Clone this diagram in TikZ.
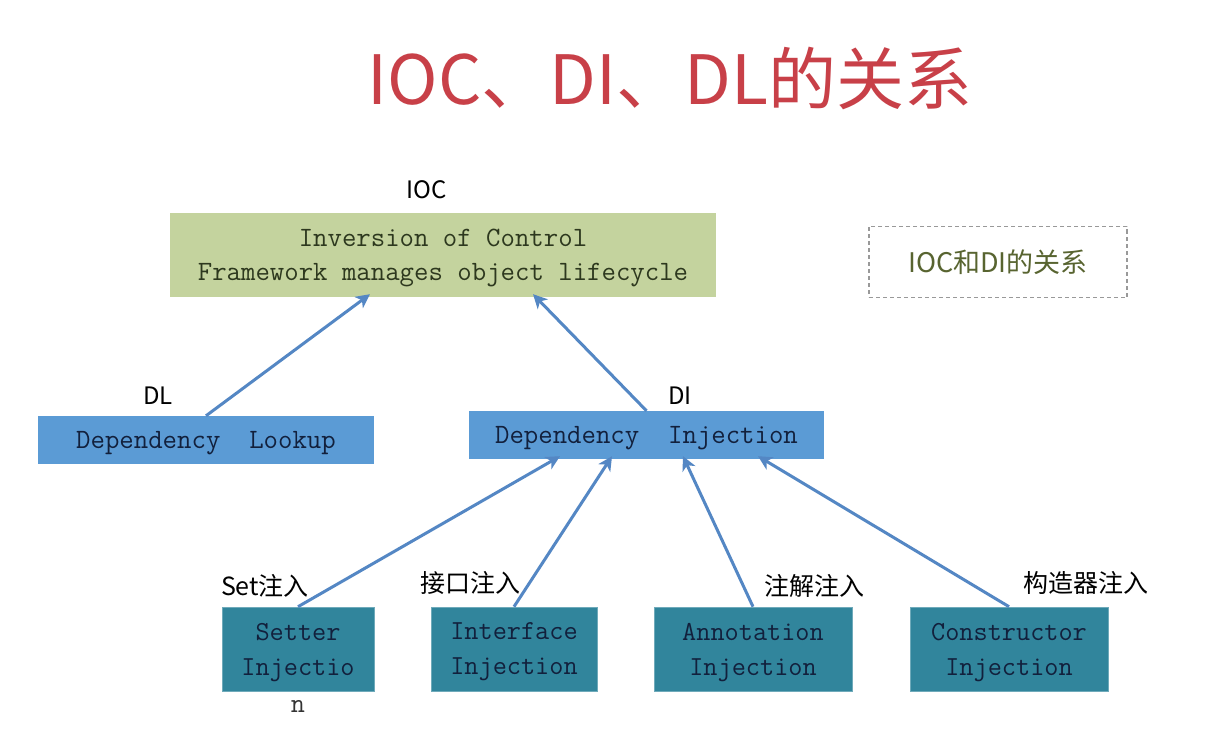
\documentclass[tikz,border=0pt]{standalone}
\usepackage{fontspec}
\newfontfamily\cjk{Noto Sans CJK SC}
\usetikzlibrary{arrows.meta}
\definecolor{titlered}{RGB}{200,64,72}
\definecolor{iocfill}{RGB}{196,211,158}
\definecolor{iocText}{RGB}{45,56,30}
\definecolor{bluefill}{RGB}{91,155,213}
\definecolor{tealfill}{RGB}{49,133,156}
\definecolor{boxtext}{RGB}{18,32,60}
\definecolor{arrowblue}{RGB}{84,135,196}
\definecolor{olivetext}{RGB}{88,100,48}
\tikzset{
  box/.style={inner sep=0pt, align=center, font=\ttfamily\fontsize{28}{34}\selectfont},
  iocbox/.style={box, fill=iocfill, text=iocText, text depth=-3pt},
  bluebox/.style={box, fill=bluefill, text=boxtext, minimum height=48pt, text depth=-2pt},
  tealbox/.style={box, fill=tealfill, text=boxtext, minimum height=84pt, draw=tealfill!70!white, line width=0.6pt, font=\ttfamily\fontsize{27.5}{35}\selectfont, text depth=-6pt},
  lbl/.style={inner sep=0pt, font=\cjk\fontsize{24}{28}\selectfont, text=black},
  cn/.style={inner sep=0pt, font=\cjk\fontsize{25}{28}\selectfont, text=black},
  link/.style={draw=arrowblue, line width=3pt, -{Stealth[length=14pt,width=14pt,inset=4pt]}}
}
\begin{document}
\begin{tikzpicture}[x=1pt,y=-1pt]
\useasboundingbox[fill=white] (0,0) rectangle (1205,738);
% title
\node[inner sep=0pt, text=titlered, font=\cjk\fontsize{68}{70}\selectfont] (title) at (670,78) {IOC、DI、DL的关系};
% IOC
\node[lbl] (ioclbl) at (427,190) {IOC};
\node[iocbox, minimum width=546pt, minimum height=84pt] (ioc) at (443,255) {Inversion of Control\\Framework manages object lifecycle};
% dashed box
\node[draw=gray!80, dashed, line width=1.2pt, dash pattern=on 4pt off 3pt, minimum width=258pt, minimum height=71pt, inner sep=0pt, text=olivetext, font=\cjk\fontsize{27}{30}\selectfont] (rel) at (998,262) {IOC和DI的关系};
% DL
\node[lbl] (dllbl) at (158,396) {DL};
\node[bluebox, minimum width=336pt] (dl) at (206,440) {Dependency\ \ Lookup};
% DI
\node[lbl] (dilbl) at (680,396) {DI};
\node[bluebox, minimum width=355pt] (di) at (646.5,435) {Dependency\ \ Injection};
% bottom boxes
\node[tealbox, minimum width=152pt] (setter) at (298,649) {Setter\\Injectio};
\node[inner sep=0pt, font=\ttfamily\fontsize{27.5}{30}\selectfont, text=black!80] (setn) at (298,706) {n};
\node[tealbox, minimum width=166pt] (iface) at (514,649) {Interface\\Injection};
\node[tealbox, minimum width=198pt] (annot) at (753,649) {Annotation\\Injection};
\node[tealbox, minimum width=198pt] (ctor) at (1009,649) {Constructor\\Injection};
% labels
\node[cn] (setlbl) at (265,586) {Set注入};
\node[cn] (ifacelbl) at (470,583) {接口注入};
\node[cn] (annotlbl) at (814,586) {注解注入};
\node[cn] (ctorlbl) at (1086,583) {构造器注入};
% arrows
\draw[link] (dl.north) -- ([xshift=-73pt,yshift=3pt]ioc.south);
\draw[link] (di.north) -- ([xshift=90pt,yshift=3pt]ioc.south);
\draw[link] (setter.north) -- ([xshift=-86.5pt,yshift=3pt]di.south);
\draw[link] (iface.north) -- ([xshift=-34.5pt,yshift=3pt]di.south);
\draw[link] (annot.north) -- ([xshift=36.5pt,yshift=3pt]di.south);
\draw[link] (ctor.north) -- ([xshift=111.5pt,yshift=3pt]di.south);
\end{tikzpicture}
\end{document}
